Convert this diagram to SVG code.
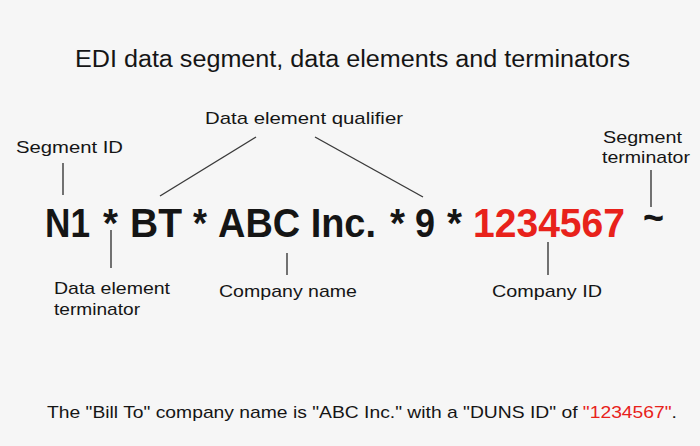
<svg xmlns="http://www.w3.org/2000/svg" width="700" height="446" viewBox="0 0 700 446">
<style>
text{font-family:"Liberation Sans",Arial,sans-serif;fill:#151515}
.lbl{font-size:17px}
.big{font-size:41px;font-weight:bold}
.red{fill:#e8221b}
.ln{stroke:#3a3a3a;stroke-width:1.4;fill:none}
</style>
<rect width="700" height="446" fill="#f6f6f6"/>
<text id="title" x="75" y="66.5" font-size="23" textLength="555" lengthAdjust="spacingAndGlyphs">EDI data segment, data elements and terminators</text>
<g id="segment">
<text class="big" x="45" y="236.5" textLength="45" lengthAdjust="spacingAndGlyphs">N1</text>
<text class="big" x="103" y="236.5" textLength="15" lengthAdjust="spacingAndGlyphs">*</text>
<text class="big" x="130" y="236.5" textLength="52" lengthAdjust="spacingAndGlyphs">BT</text>
<text class="big" x="193" y="236.5" textLength="14" lengthAdjust="spacingAndGlyphs">*</text>
<text class="big" x="218" y="236.5" textLength="158" lengthAdjust="spacingAndGlyphs">ABC Inc.</text>
<text class="big" x="390" y="236.5" textLength="15" lengthAdjust="spacingAndGlyphs">*</text>
<text class="big" x="415" y="236.5" textLength="20" lengthAdjust="spacingAndGlyphs">9</text>
<text class="big" x="447" y="236.5" textLength="15" lengthAdjust="spacingAndGlyphs">*</text>
<text class="big red" x="473" y="236.5" textLength="152" lengthAdjust="spacingAndGlyphs">1234567</text>
<text class="big" x="643" y="231" textLength="21" lengthAdjust="spacingAndGlyphs">~</text>
</g>
<g id="lbl-segment-id"><text class="lbl" x="16" y="153" textLength="107" lengthAdjust="spacingAndGlyphs">Segment ID</text></g>
<g id="lbl-qualifier"><text class="lbl" x="205" y="124" textLength="198" lengthAdjust="spacingAndGlyphs">Data element qualifier</text></g>
<g id="lbl-de-terminator"><text class="lbl" x="54" y="294" textLength="116" lengthAdjust="spacingAndGlyphs">Data element</text><text class="lbl" x="54" y="315" textLength="86" lengthAdjust="spacingAndGlyphs">terminator</text></g>
<g id="lbl-company-name"><text class="lbl" x="219" y="297" textLength="138" lengthAdjust="spacingAndGlyphs">Company name</text></g>
<g id="lbl-company-id"><text class="lbl" x="492" y="297" textLength="110" lengthAdjust="spacingAndGlyphs">Company ID</text></g>
<g id="lbl-seg-terminator"><text class="lbl" x="603" y="143" textLength="79" lengthAdjust="spacingAndGlyphs">Segment</text><text class="lbl" x="602" y="163" textLength="88" lengthAdjust="spacingAndGlyphs">terminator</text></g>
<g id="connectors">
<line class="ln" x1="63" y1="163" x2="63" y2="195"/>
<line class="ln" x1="256" y1="137" x2="160" y2="196"/>
<line class="ln" x1="315" y1="137" x2="423" y2="197"/>
<line class="ln" x1="111" y1="230" x2="111" y2="268"/>
<line class="ln" x1="287" y1="253" x2="287" y2="275"/>
<line class="ln" x1="548" y1="242" x2="548" y2="275"/>
<line class="ln" x1="651" y1="170" x2="651" y2="207"/>
</g>
<text id="caption" x="47" y="418" font-size="17" textLength="630" lengthAdjust="spacingAndGlyphs">The "Bill To" company name is "ABC Inc." with a "DUNS ID" of <tspan class="red">"1234567"</tspan>.</text>
</svg>
